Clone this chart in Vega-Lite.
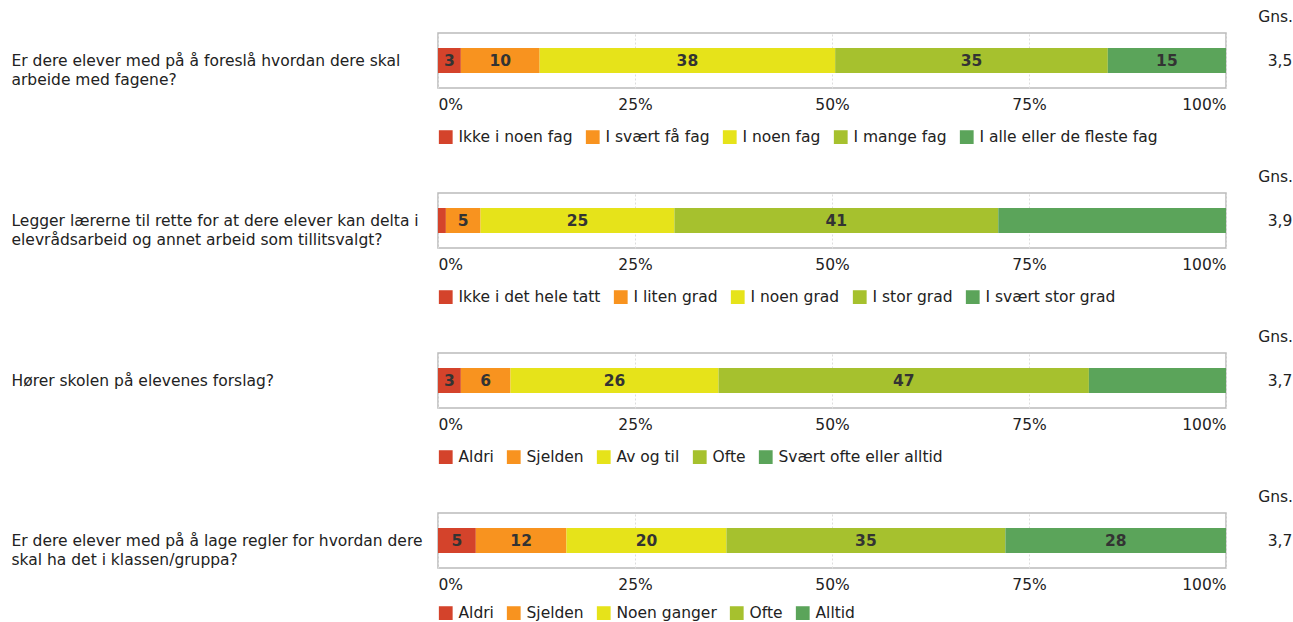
{
  "$schema": "https://vega.github.io/schema/vega-lite/v6.json",
  "padding": {"left": 10, "top": 9, "right": 0, "bottom": 0},
  "config": {
    "font": "DejaVu Sans",
    "view": {"stroke": "#bbbbbb", "strokeWidth": 1.5},
    "axis": {"labelFont": "DejaVu Sans", "labelFontSize": 15.5, "labelColor": "#222222"},
    "axisX": {"ticks": false, "domain": false, "labelFlush": true, "labelPadding": 9, "gridColor": "#dddddd", "gridDash": [2, 2], "title": null},
    "legend": {"labelFont": "DejaVu Sans", "labelFontSize": 15.5, "labelColor": "#222222"},
    "title": {"font": "DejaVu Sans", "fontSize": 15.5, "fontWeight": "normal", "color": "#222222"}
  },
  "datasets": {
    "bars": [
      {"p": 1, "q": "Er dere elever med på å foreslå hvordan dere skal|arbeide med fagene?", "cat": "Ikke i noen fag", "order": 1, "value": 2.9, "label": "3"},
      {"p": 1, "q": "Er dere elever med på å foreslå hvordan dere skal|arbeide med fagene?", "cat": "I svært få fag", "order": 2, "value": 10.0, "label": "10"},
      {"p": 1, "q": "Er dere elever med på å foreslå hvordan dere skal|arbeide med fagene?", "cat": "I noen fag", "order": 3, "value": 37.5, "label": "38"},
      {"p": 1, "q": "Er dere elever med på å foreslå hvordan dere skal|arbeide med fagene?", "cat": "I mange fag", "order": 4, "value": 34.6, "label": "35"},
      {"p": 1, "q": "Er dere elever med på å foreslå hvordan dere skal|arbeide med fagene?", "cat": "I alle eller de fleste fag", "order": 5, "value": 15.0, "label": "15"},
      {"p": 2, "q": "Legger lærerne til rette for at dere elever kan delta i|elevrådsarbeid og annet arbeid som tillitsvalgt?", "cat": "Ikke i det hele tatt", "order": 1, "value": 1.0, "label": ""},
      {"p": 2, "q": "Legger lærerne til rette for at dere elever kan delta i|elevrådsarbeid og annet arbeid som tillitsvalgt?", "cat": "I liten grad", "order": 2, "value": 4.4, "label": "5"},
      {"p": 2, "q": "Legger lærerne til rette for at dere elever kan delta i|elevrådsarbeid og annet arbeid som tillitsvalgt?", "cat": "I noen grad", "order": 3, "value": 24.6, "label": "25"},
      {"p": 2, "q": "Legger lærerne til rette for at dere elever kan delta i|elevrådsarbeid og annet arbeid som tillitsvalgt?", "cat": "I stor grad", "order": 4, "value": 41.1, "label": "41"},
      {"p": 2, "q": "Legger lærerne til rette for at dere elever kan delta i|elevrådsarbeid og annet arbeid som tillitsvalgt?", "cat": "I svært stor grad", "order": 5, "value": 28.9, "label": ""},
      {"p": 3, "q": "Hører skolen på elevenes forslag?", "cat": "Aldri", "order": 1, "value": 2.9, "label": "3"},
      {"p": 3, "q": "Hører skolen på elevenes forslag?", "cat": "Sjelden", "order": 2, "value": 6.3, "label": "6"},
      {"p": 3, "q": "Hører skolen på elevenes forslag?", "cat": "Av og til", "order": 3, "value": 26.4, "label": "26"},
      {"p": 3, "q": "Hører skolen på elevenes forslag?", "cat": "Ofte", "order": 4, "value": 47.0, "label": "47"},
      {"p": 3, "q": "Hører skolen på elevenes forslag?", "cat": "Svært ofte eller alltid", "order": 5, "value": 17.4, "label": ""},
      {"p": 4, "q": "Er dere elever med på å lage regler for hvordan dere|skal ha det i klassen/gruppa?", "cat": "Aldri", "order": 1, "value": 4.8, "label": "5"},
      {"p": 4, "q": "Er dere elever med på å lage regler for hvordan dere|skal ha det i klassen/gruppa?", "cat": "Sjelden", "order": 2, "value": 11.5, "label": "12"},
      {"p": 4, "q": "Er dere elever med på å lage regler for hvordan dere|skal ha det i klassen/gruppa?", "cat": "Noen ganger", "order": 3, "value": 20.3, "label": "20"},
      {"p": 4, "q": "Er dere elever med på å lage regler for hvordan dere|skal ha det i klassen/gruppa?", "cat": "Ofte", "order": 4, "value": 35.4, "label": "35"},
      {"p": 4, "q": "Er dere elever med på å lage regler for hvordan dere|skal ha det i klassen/gruppa?", "cat": "Alltid", "order": 5, "value": 28.0, "label": "28"}
    ],
    "avgs": [
      {"p": 1, "avg": "3,5"},
      {"p": 2, "avg": "3,9"},
      {"p": 3, "avg": "3,7"},
      {"p": 4, "avg": "3,7"}
    ]
  },
  "resolve": {"scale": {"color": "independent"}, "legend": {"color": "independent"}},
  "spacing": 22,
  "vconcat": [
    {
      "spacing": 31,
      "resolve": {"scale": {"color": "independent"}},
      "hconcat": [
        {
          "width": 788, "height": 55,
          "data": {"name": "bars"},
          "transform": [
            {"filter": "datum.p == 1"},
            {"stack": "value", "groupby": ["q"], "sort": [{"field": "order"}], "as": ["x0", "x1"]},
            {"calculate": "(datum.x0 + datum.x1) / 2", "as": "xm"}
          ],
          "encoding": {
            "y": {"field": "q", "type": "nominal", "title": null, "scale": {"paddingInner": 0, "paddingOuter": 0},
                  "axis": {"labelExpr": "split(datum.label, '|')", "labelAlign": "left", "labelPadding": 427, "labelLimit": 430, "labelLineHeight": 19, "ticks": false, "domain": false, "labelBaseline": "middle"}}
          },
          "layer": [
            {"mark": {"type": "bar", "height": {"band": 0.4545}},
             "encoding": {
               "x": {"field": "x0", "type": "quantitative", "title": null, "scale": {"domain": [0, 100], "nice": false},
                  "axis": {"values": [0, 25, 50, 75, 100], "labelExpr": "datum.value + '%'"}},
               "x2": {"field": "x1"},
               "color": {"field": "cat", "type": "nominal", "sort": null,
                "scale": {"domain": ["Ikke i noen fag", "I svært få fag", "I noen fag", "I mange fag", "I alle eller de fleste fag"], "range": ["#d4432b", "#f8931f", "#e6e31a", "#a6c12e", "#5ba45a"]},
                "legend": {"orient": "bottom", "direction": "horizontal", "title": null, "offset": 16, "symbolType": "square", "symbolSize": 190, "symbolStrokeWidth": 0, "symbolOpacity": 1, "columnPadding": 12, "labelOffset": 5, "labelLimit": 400}}}},
            {"mark": {"type": "text", "fontWeight": "bold", "fontSize": 15.5, "color": "#333333", "baseline": "middle"},
             "encoding": {"x": {"field": "xm", "type": "quantitative", "title": null, "axis": {"values": [0, 25, 50, 75, 100], "labelExpr": "datum.value + '%'"}}, "text": {"field": "label"}}}
          ]
        },
        {
          "width": 26, "height": 55,
          "view": {"stroke": null},
          "title": {"text": "Gns.", "anchor": "end", "offset": 8},
          "data": {"name": "avgs"},
          "transform": [{"filter": "datum.p == 1"}],
          "mark": {"type": "text", "fontSize": 15.5, "color": "#222222"},
          "encoding": {"text": {"field": "avg"}}
        }
      ]
    },
    {
      "spacing": 31,
      "resolve": {"scale": {"color": "independent"}},
      "hconcat": [
        {
          "width": 788, "height": 55,
          "data": {"name": "bars"},
          "transform": [
            {"filter": "datum.p == 2"},
            {"stack": "value", "groupby": ["q"], "sort": [{"field": "order"}], "as": ["x0", "x1"]},
            {"calculate": "(datum.x0 + datum.x1) / 2", "as": "xm"}
          ],
          "encoding": {
            "y": {"field": "q", "type": "nominal", "title": null, "scale": {"paddingInner": 0, "paddingOuter": 0},
                  "axis": {"labelExpr": "split(datum.label, '|')", "labelAlign": "left", "labelPadding": 427, "labelLimit": 430, "labelLineHeight": 19, "ticks": false, "domain": false, "labelBaseline": "middle"}}
          },
          "layer": [
            {"mark": {"type": "bar", "height": {"band": 0.4545}},
             "encoding": {
               "x": {"field": "x0", "type": "quantitative", "title": null, "scale": {"domain": [0, 100], "nice": false},
                  "axis": {"values": [0, 25, 50, 75, 100], "labelExpr": "datum.value + '%'"}},
               "x2": {"field": "x1"},
               "color": {"field": "cat", "type": "nominal", "sort": null,
                "scale": {"domain": ["Ikke i det hele tatt", "I liten grad", "I noen grad", "I stor grad", "I svært stor grad"], "range": ["#d4432b", "#f8931f", "#e6e31a", "#a6c12e", "#5ba45a"]},
                "legend": {"orient": "bottom", "direction": "horizontal", "title": null, "offset": 16, "symbolType": "square", "symbolSize": 190, "symbolStrokeWidth": 0, "symbolOpacity": 1, "columnPadding": 12, "labelOffset": 5, "labelLimit": 400}}}},
            {"mark": {"type": "text", "fontWeight": "bold", "fontSize": 15.5, "color": "#333333", "baseline": "middle"},
             "encoding": {"x": {"field": "xm", "type": "quantitative", "title": null, "axis": {"values": [0, 25, 50, 75, 100], "labelExpr": "datum.value + '%'"}}, "text": {"field": "label"}}}
          ]
        },
        {
          "width": 26, "height": 55,
          "view": {"stroke": null},
          "title": {"text": "Gns.", "anchor": "end", "offset": 8},
          "data": {"name": "avgs"},
          "transform": [{"filter": "datum.p == 2"}],
          "mark": {"type": "text", "fontSize": 15.5, "color": "#222222"},
          "encoding": {"text": {"field": "avg"}}
        }
      ]
    },
    {
      "spacing": 31,
      "resolve": {"scale": {"color": "independent"}},
      "hconcat": [
        {
          "width": 788, "height": 55,
          "data": {"name": "bars"},
          "transform": [
            {"filter": "datum.p == 3"},
            {"stack": "value", "groupby": ["q"], "sort": [{"field": "order"}], "as": ["x0", "x1"]},
            {"calculate": "(datum.x0 + datum.x1) / 2", "as": "xm"}
          ],
          "encoding": {
            "y": {"field": "q", "type": "nominal", "title": null, "scale": {"paddingInner": 0, "paddingOuter": 0},
                  "axis": {"labelExpr": "split(datum.label, '|')", "labelAlign": "left", "labelPadding": 427, "labelLimit": 430, "labelLineHeight": 19, "ticks": false, "domain": false, "labelBaseline": "middle"}}
          },
          "layer": [
            {"mark": {"type": "bar", "height": {"band": 0.4545}},
             "encoding": {
               "x": {"field": "x0", "type": "quantitative", "title": null, "scale": {"domain": [0, 100], "nice": false},
                  "axis": {"values": [0, 25, 50, 75, 100], "labelExpr": "datum.value + '%'"}},
               "x2": {"field": "x1"},
               "color": {"field": "cat", "type": "nominal", "sort": null,
                "scale": {"domain": ["Aldri", "Sjelden", "Av og til", "Ofte", "Svært ofte eller alltid"], "range": ["#d4432b", "#f8931f", "#e6e31a", "#a6c12e", "#5ba45a"]},
                "legend": {"orient": "bottom", "direction": "horizontal", "title": null, "offset": 16, "symbolType": "square", "symbolSize": 190, "symbolStrokeWidth": 0, "symbolOpacity": 1, "columnPadding": 12, "labelOffset": 5, "labelLimit": 400}}}},
            {"mark": {"type": "text", "fontWeight": "bold", "fontSize": 15.5, "color": "#333333", "baseline": "middle"},
             "encoding": {"x": {"field": "xm", "type": "quantitative", "title": null, "axis": {"values": [0, 25, 50, 75, 100], "labelExpr": "datum.value + '%'"}}, "text": {"field": "label"}}}
          ]
        },
        {
          "width": 26, "height": 55,
          "view": {"stroke": null},
          "title": {"text": "Gns.", "anchor": "end", "offset": 8},
          "data": {"name": "avgs"},
          "transform": [{"filter": "datum.p == 3"}],
          "mark": {"type": "text", "fontSize": 15.5, "color": "#222222"},
          "encoding": {"text": {"field": "avg"}}
        }
      ]
    },
    {
      "spacing": 31,
      "resolve": {"scale": {"color": "independent"}},
      "hconcat": [
        {
          "width": 788, "height": 55,
          "data": {"name": "bars"},
          "transform": [
            {"filter": "datum.p == 4"},
            {"stack": "value", "groupby": ["q"], "sort": [{"field": "order"}], "as": ["x0", "x1"]},
            {"calculate": "(datum.x0 + datum.x1) / 2", "as": "xm"}
          ],
          "encoding": {
            "y": {"field": "q", "type": "nominal", "title": null, "scale": {"paddingInner": 0, "paddingOuter": 0},
                  "axis": {"labelExpr": "split(datum.label, '|')", "labelAlign": "left", "labelPadding": 427, "labelLimit": 430, "labelLineHeight": 19, "ticks": false, "domain": false, "labelBaseline": "middle"}}
          },
          "layer": [
            {"mark": {"type": "bar", "height": {"band": 0.4545}},
             "encoding": {
               "x": {"field": "x0", "type": "quantitative", "title": null, "scale": {"domain": [0, 100], "nice": false},
                  "axis": {"values": [0, 25, 50, 75, 100], "labelExpr": "datum.value + '%'"}},
               "x2": {"field": "x1"},
               "color": {"field": "cat", "type": "nominal", "sort": null,
                "scale": {"domain": ["Aldri", "Sjelden", "Noen ganger", "Ofte", "Alltid"], "range": ["#d4432b", "#f8931f", "#e6e31a", "#a6c12e", "#5ba45a"]},
                "legend": {"orient": "bottom", "direction": "horizontal", "title": null, "offset": 12, "symbolType": "square", "symbolSize": 190, "symbolStrokeWidth": 0, "symbolOpacity": 1, "columnPadding": 12, "labelOffset": 5, "labelLimit": 400}}}},
            {"mark": {"type": "text", "fontWeight": "bold", "fontSize": 15.5, "color": "#333333", "baseline": "middle"},
             "encoding": {"x": {"field": "xm", "type": "quantitative", "title": null, "axis": {"values": [0, 25, 50, 75, 100], "labelExpr": "datum.value + '%'"}}, "text": {"field": "label"}}}
          ]
        },
        {
          "width": 26, "height": 55,
          "view": {"stroke": null},
          "title": {"text": "Gns.", "anchor": "end", "offset": 8},
          "data": {"name": "avgs"},
          "transform": [{"filter": "datum.p == 4"}],
          "mark": {"type": "text", "fontSize": 15.5, "color": "#222222"},
          "encoding": {"text": {"field": "avg"}}
        }
      ]
    }
  ]
}
